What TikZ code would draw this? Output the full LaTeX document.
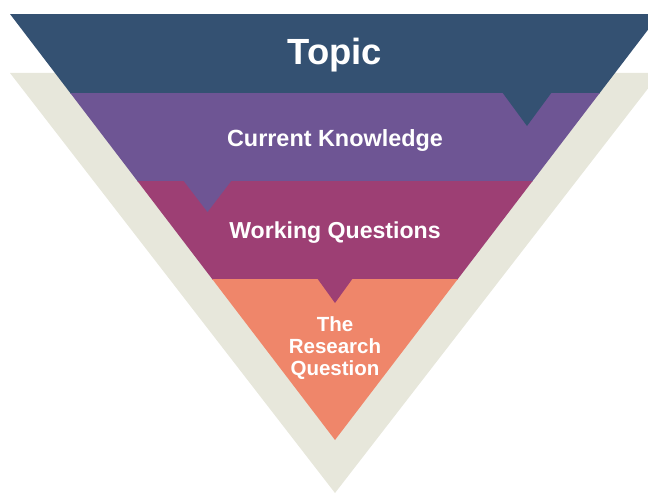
\documentclass[tikz,border=0pt]{standalone}
\usepackage{fontspec}
\setmainfont{Liberation Sans}
\definecolor{cbeige}{HTML}{E7E7DB}
\definecolor{cblue}{HTML}{345172}
\definecolor{cpurple}{HTML}{6E5594}
\definecolor{cmagenta}{HTML}{9D3F74}
\definecolor{corange}{HTML}{EF866A}
\tikzset{
  lbl/.style={text=white, font=\bfseries, inner sep=0pt},
}
\begin{document}
\begin{tikzpicture}[x=1pt,y=-1pt]
\useasboundingbox (0,0) rectangle (648,495);
% coordinates
\coordinate (tl) at (10,14);
\coordinate (tr) at (660,14);
\coordinate (tip) at (335,440);
\coordinate (bl) at (10,73);
\coordinate (br) at (660,73);
\coordinate (btip) at (335,493);
% beige back triangle
\fill[cbeige] (bl) -- (br) -- (btip) -- cycle;
% bands clipped by the main triangle
\begin{scope}
  \clip (tl) -- (tr) -- (tip) -- cycle;
  \fill[cblue] (0,14) rectangle (670,93.5);
  \fill[cpurple] (0,93) rectangle (670,181.5);
  \fill[cmagenta] (0,181) rectangle (670,279.5);
  \fill[corange] (0,279) rectangle (670,445);
  % notches
  \fill[cblue] (502,92) -- (552,92) -- (527,126) -- cycle;
  \fill[cpurple] (183,180) -- (232,180) -- (207.5,212) -- cycle;
  \fill[cmagenta] (317,278) -- (353,278) -- (335,303) -- cycle;
\end{scope}
% labels
\node[lbl, anchor=base, font=\bfseries\fontsize{36.4}{40}\selectfont] (topic) at (335,65) {Topic};
\node[lbl, anchor=base, font=\bfseries\fontsize{23.4}{26}\selectfont] (know) at (335,146) {Current Knowledge};
\node[lbl, anchor=base, font=\bfseries\fontsize{23.1}{26}\selectfont] (work) at (335,238) {Working Questions};
\node[lbl, align=center, font=\bfseries\fontsize{20.5}{22}\selectfont] (rq) at (335,348.5) {The\\Research\\Question};
\end{tikzpicture}
\end{document}
